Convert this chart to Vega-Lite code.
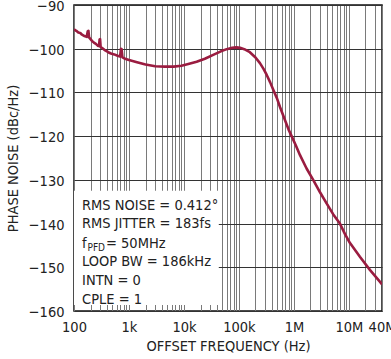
{
  "$schema": "https://vega.github.io/schema/vega-lite/v6.json",
  "width": 308,
  "height": 306,
  "autosize": {"type": "none"},
  "padding": {"left": 74, "top": 5, "right": 9, "bottom": 48},
  "background": "white",
  "config": {
    "font": "DejaVu Sans Condensed",
    "view": {"stroke": "#111", "strokeWidth": 1.5},
    "axis": {
      "labelFont": "DejaVu Sans Condensed",
      "labelFontSize": 14.5,
      "labelColor": "#222",
      "titleFont": "DejaVu Sans Condensed",
      "titleFontSize": 14.5,
      "titleFontWeight": "normal",
      "titleColor": "#222",
      "domain": false,
      "ticks": false,
      "tickSize": 0
    }
  },
  "layer": [
    {
      "data": {
        "values": [
          {"freq": 100, "pn": -95.6}, {"freq": 110, "pn": -95.9}, {"freq": 120, "pn": -96.3}, {"freq": 130, "pn": -96.4},
          {"freq": 140, "pn": -96.8}, {"freq": 155, "pn": -97.1}, {"freq": 170, "pn": -97.3}, {"freq": 178, "pn": -96.0},
          {"freq": 183, "pn": -95.9}, {"freq": 188, "pn": -97.4}, {"freq": 200, "pn": -97.8}, {"freq": 215, "pn": -98.3},
          {"freq": 230, "pn": -98.6}, {"freq": 250, "pn": -98.9}, {"freq": 270, "pn": -99.3}, {"freq": 285, "pn": -99.4},
          {"freq": 292, "pn": -97.9}, {"freq": 298, "pn": -97.8}, {"freq": 305, "pn": -99.6}, {"freq": 330, "pn": -99.9},
          {"freq": 370, "pn": -100.4}, {"freq": 420, "pn": -100.8}, {"freq": 470, "pn": -101.1}, {"freq": 540, "pn": -101.3},
          {"freq": 620, "pn": -101.6}, {"freq": 690, "pn": -101.8}, {"freq": 715, "pn": -100.0}, {"freq": 735, "pn": -100.1},
          {"freq": 760, "pn": -102.0}, {"freq": 850, "pn": -102.3}, {"freq": 1000, "pn": -102.6}, {"freq": 1400, "pn": -103.1},
          {"freq": 2000, "pn": -103.6}, {"freq": 3000, "pn": -104.0}, {"freq": 4500, "pn": -104.1}, {"freq": 6500, "pn": -104.1},
          {"freq": 9000, "pn": -103.9}, {"freq": 12000, "pn": -103.5}, {"freq": 17000, "pn": -103.0}, {"freq": 24000, "pn": -102.3},
          {"freq": 34000, "pn": -101.4}, {"freq": 47000, "pn": -100.6}, {"freq": 60000, "pn": -100.1}, {"freq": 75000, "pn": -99.8},
          {"freq": 90000, "pn": -99.7}, {"freq": 105000, "pn": -99.8}, {"freq": 125000, "pn": -100.1}, {"freq": 158000, "pn": -100.8},
          {"freq": 200000, "pn": -102.0}, {"freq": 241000, "pn": -103.3}, {"freq": 280000, "pn": -104.6}, {"freq": 320000, "pn": -106.0},
          {"freq": 370000, "pn": -107.7}, {"freq": 421000, "pn": -109.4}, {"freq": 490000, "pn": -111.3}, {"freq": 560000, "pn": -113.4},
          {"freq": 686000, "pn": -116.3}, {"freq": 800000, "pn": -118.5}, {"freq": 908000, "pn": -120.0}, {"freq": 1100000, "pn": -122.3},
          {"freq": 1285000, "pn": -124.3}, {"freq": 1700000, "pn": -127.4}, {"freq": 2240000, "pn": -130.0}, {"freq": 3000000, "pn": -132.9},
          {"freq": 3930000, "pn": -135.4}, {"freq": 5200000, "pn": -137.9}, {"freq": 6860000, "pn": -140.0}, {"freq": 8500000, "pn": -142.4},
          {"freq": 10400000, "pn": -144.4}, {"freq": 15850000, "pn": -147.6}, {"freq": 24100000, "pn": -150.6}, {"freq": 36500000, "pn": -153.3},
          {"freq": 40000000, "pn": -153.9}
        ]
      },
      "mark": {"type": "line", "color": "#9a1c40", "strokeWidth": 2.6, "clip": true, "strokeJoin": "round"},
      "encoding": {
        "x": {
          "field": "freq",
          "type": "quantitative",
          "scale": {"type": "log", "domain": [100, 40000000], "nice": false},
          "axis": {
            "title": "OFFSET FREQUENCY (Hz)",
            "titlePadding": 6,
            "labelPadding": 9,
            "labelOverlap": false,
            "labelFlush": false,
            "labelBound": false,
            "grid": true,
            "gridColor": "#7a7a7a",
            "gridWidth": 1,
            "gridOpacity": 1,
            "values": [100, 200, 300, 400, 500, 600, 700, 800, 900,
              1000, 2000, 3000, 4000, 5000, 6000, 7000, 8000, 9000,
              10000, 20000, 30000, 40000, 50000, 60000, 70000, 80000, 90000,
              100000, 200000, 300000, 400000, 500000, 600000, 700000, 800000, 900000,
              1000000, 2000000, 3000000, 4000000, 5000000, 6000000, 7000000, 8000000, 9000000,
              10000000, 20000000, 30000000, 40000000],
            "labelExpr": "datum.value==100?'100':datum.value==1000?'1k':datum.value==10000?'10k':datum.value==100000?'100k':datum.value==1000000?'1M':datum.value==10000000?'10M':datum.value==40000000?'40M':''"
          }
        },
        "y": {
          "field": "pn",
          "type": "quantitative",
          "scale": {"domain": [-160, -90], "nice": false, "zero": false},
          "axis": {
            "title": "PHASE NOISE (dBc/Hz)",
            "titlePadding": 8,
            "labelPadding": 10,
            "labelOffset": 1.5,
            "grid": true,
            "gridColor": "#333",
            "gridWidth": 1,
            "gridOpacity": 1,
            "values": [-160, -150, -140, -130, -120, -110, -100, -90],
            "labelExpr": "replace(format(datum.value, 'd'), '-', '−')"
          }
        }
      }
    },
    {
      "data": {"values": [{}]},
      "mark": {"type": "rect", "fill": "white", "stroke": null},
      "encoding": {
        "x": {"datum": 100},
        "x2": {"datum": 43000},
        "y": {"datum": -132.5},
        "y2": {"datum": -158.6}
      }
    },
    {
      "data": {"values": [{"label": "RMS NOISE = 0.412°"}]},
      "mark": {"type": "text", "align": "left", "baseline": "middle", "fontSize": 14.5, "color": "#222", "font": "DejaVu Sans Condensed"},
      "encoding": {"x": {"datum": 140}, "y": {"datum": -135.98}, "text": {"field": "label"}}
    },
    {
      "data": {"values": [{"label": "RMS JITTER = 183fs"}]},
      "mark": {"type": "text", "align": "left", "baseline": "middle", "fontSize": 14.5, "color": "#222", "font": "DejaVu Sans Condensed"},
      "encoding": {"x": {"datum": 140}, "y": {"datum": -140.21}, "text": {"field": "label"}}
    },
    {
      "data": {"values": [{"label": "f"}]},
      "mark": {"type": "text", "align": "left", "baseline": "middle", "fontSize": 14.5, "color": "#222", "font": "DejaVu Sans Condensed"},
      "encoding": {"x": {"datum": 140}, "y": {"datum": -144.56}, "text": {"field": "label"}}
    },
    {
      "data": {"values": [{"label": "PFD"}]},
      "mark": {"type": "text", "align": "left", "baseline": "middle", "fontSize": 10, "dy": 4, "color": "#222", "font": "DejaVu Sans Condensed"},
      "encoding": {"x": {"datum": 175.8}, "y": {"datum": -144.56}, "text": {"field": "label"}}
    },
    {
      "data": {"values": [{"label": "= 50MHz"}]},
      "mark": {"type": "text", "align": "left", "baseline": "middle", "fontSize": 14.5, "color": "#222", "font": "DejaVu Sans Condensed"},
      "encoding": {"x": {"datum": 382}, "y": {"datum": -144.56}, "text": {"field": "label"}}
    },
    {
      "data": {"values": [{"label": "LOOP BW = 186kHz"}]},
      "mark": {"type": "text", "align": "left", "baseline": "middle", "fontSize": 14.5, "color": "#222", "font": "DejaVu Sans Condensed"},
      "encoding": {"x": {"datum": 140}, "y": {"datum": -148.79}, "text": {"field": "label"}}
    },
    {
      "data": {"values": [{"label": "INTN = 0"}]},
      "mark": {"type": "text", "align": "left", "baseline": "middle", "fontSize": 14.5, "color": "#222", "font": "DejaVu Sans Condensed"},
      "encoding": {"x": {"datum": 140}, "y": {"datum": -153.14}, "text": {"field": "label"}}
    },
    {
      "data": {"values": [{"label": "CPLE = 1"}]},
      "mark": {"type": "text", "align": "left", "baseline": "middle", "fontSize": 14.5, "color": "#222", "font": "DejaVu Sans Condensed"},
      "encoding": {"x": {"datum": 140}, "y": {"datum": -157.37}, "text": {"field": "label"}}
    }
  ]
}
